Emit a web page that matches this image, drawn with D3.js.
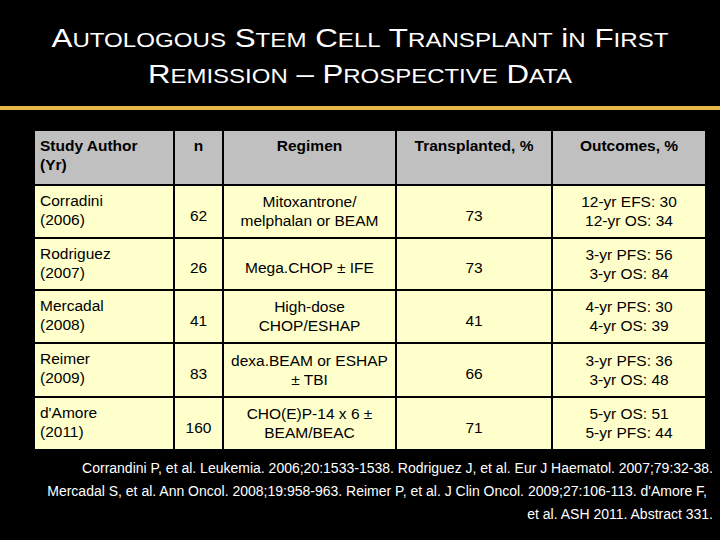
<!DOCTYPE html><html><head><meta charset="utf-8">
<script src="https://cdn.jsdelivr.net/npm/d3@7"></script>
<style>body{margin:0;background:#000}</style></head><body><svg id="c" width="720" height="540"></svg>
<script>
const headers=["Study Author\n(Yr)","n","Regimen","Transplanted, %","Outcomes, %"];
const authors=["Corradini\n(2006)","Rodriguez\n(2007)","Mercadal\n(2008)","Reimer\n(2009)","d'Amore\n(2011)"];
const nValues=[62,26,41,83,160];
const regimens=["Mitoxantrone/\nmelphalan or BEAM","Mega.CHOP ± IFE","High-dose\nCHOP/ESHAP","dexa.BEAM or ESHAP\n± TBI","CHO(E)P-14 x 6 ±\nBEAM/BEAC"];
const transplanted=[73,73,41,66,71];
const outcomes=["12-yr EFS: 30\n12-yr OS: 34","3-yr PFS: 56\n3-yr OS: 84","4-yr PFS: 30\n4-yr OS: 39","3-yr PFS: 36\n3-yr OS: 48","5-yr OS: 51\n5-yr PFS: 44"];
const footnote=["Corrandini P, et al. Leukemia. 2006;20:1533-1538. Rodriguez J, et al. Eur J Haematol. 2007;79:32-38.","Mercadal S, et al. Ann Oncol. 2008;19:958-963. Reimer P, et al. J Clin Oncol. 2009;27:106-113. d'Amore F,","et al. ASH 2011. Abstract 331."];

const svg=d3.select("#c");
svg.append("rect").attr("width",720).attr("height",540).attr("fill","#000");
function sc(t,y,len){
  const tx=svg.append("text").attr("x",360).attr("y",y).attr("text-anchor","middle").attr("fill","#fff")
    .attr("font-family","Liberation Sans, Arial, sans-serif").attr("textLength",len).attr("lengthAdjust","spacingAndGlyphs");
  t.split(" ").forEach((w,i)=>{
    const pre=i?" ":"";
    tx.append("tspan").attr("font-size",26).text(pre+w[0]);
    if(w.length>1) tx.append("tspan").attr("font-size",20).text(w.slice(1).toUpperCase());
  });
}
sc("Autologous Stem Cell Transplant in First",47,617);
sc("Remission – Prospective Data",83,424);
svg.append("rect").attr("x",0).attr("y",106).attr("width",720).attr("height",4).attr("fill","#e8b548");

const colEdges=[34,174,223,396,552,706];
const rowEdges=[130,185,238,290,343,397,450];
const rows=authors.map((a,i)=>[a,String(nValues[i]),regimens[i],String(transplanted[i]),outcomes[i]]);
const all=[headers,...rows];
all.forEach((r,ri)=>{
  const y0=rowEdges[ri],y1=rowEdges[ri+1];
  r.forEach((txt,ci)=>{
    const x0=colEdges[ci],x1=colEdges[ci+1];
    svg.append("rect").attr("x",x0).attr("y",y0).attr("width",x1-x0).attr("height",y1-y0)
      .attr("fill",ri==0?"#c0c0c0":"#ffffcc").attr("stroke","#000").attr("stroke-width",2);
    const lines=txt.split("\n");
    const left=ci==0;
    const t=svg.append("text").attr("font-family","Liberation Sans, Arial, sans-serif").attr("font-size",15.5)
      .attr("font-weight",ri==0?"bold":"normal").attr("fill","#000")
      .attr("text-anchor",left?"start":"middle");
    const tx=left?x0+6:(x0+x1)/2;
    let ty;
    if(ri==0||left) ty=y0+21;
    else ty=(y0+y1)/2+5-(lines.length-1)*9.5+(lines.length==1?4:0);
    lines.forEach((l,li)=>t.append("tspan").attr("x",tx).attr("y",ty+li*19).text(l));
  });
});
footnote.forEach((l,i)=>{
  svg.append("text").attr("x",i==1?707:713).attr("y",473+i*23).attr("text-anchor","end").attr("fill","#fff")
    .attr("font-family","Liberation Sans Narrow, Arial Narrow, sans-serif").attr("font-size",14).text(l);
});
</script></body></html>
